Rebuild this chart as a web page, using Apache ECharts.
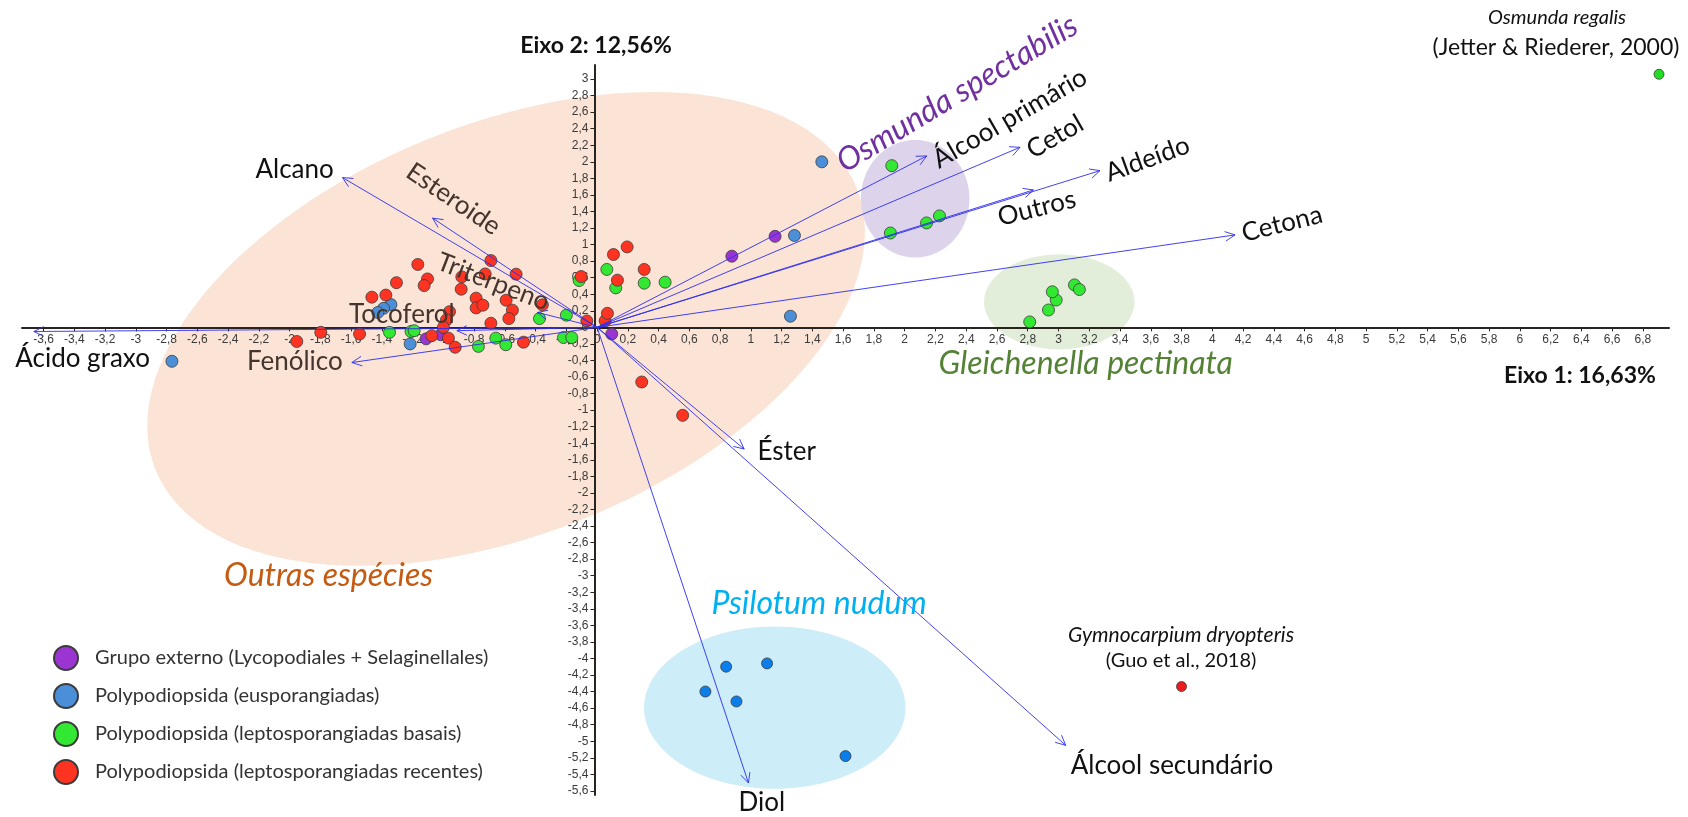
<!DOCTYPE html>
<html>
<head>
<meta charset="utf-8">
<script src="https://cdn.jsdelivr.net/npm/echarts@6/dist/echarts.min.js"></script>
<style>
  html, body { margin: 0; padding: 0; background: #ffffff; }
  #chart { width: 1688px; height: 817px; }
</style>
</head>
<body>
<div id="chart"></div>
<script>
// ---- Group names (legend) ----
const groupNames = [
  'Grupo externo (Lycopodiales + Selaginellales)',
  'Polypodiopsida (eusporangiadas)',
  'Polypodiopsida (leptosporangiadas basais)',
  'Polypodiopsida (leptosporangiadas recentes)'
];

// ---- Species scores [Eixo 1, Eixo 2] ----
const grupoExterno = [
  [0.876, 0.86], [1.157, 1.10], [0.095, -0.08], [-1.112, -0.139], [-1.016, -0.09]
];
const eusporangiadas = [
  [-2.765, -0.41], [-1.341, 0.275], [-1.389, 0.23], [-1.426, 0.18], [-1.216, -0.2],
  [1.461, 2.0], [1.283, 1.11], [1.257, 0.135]
];
const psilotumNudum = [
  [0.839, -4.10], [1.105, -4.06], [0.704, -4.40], [0.906, -4.52], [1.615, -5.18]
];
const leptoBasais = [
  [-1.35, -0.06], [-1.21, -0.05], [-1.19, -0.04], [-0.772, -0.23], [-0.659, -0.13],
  [-0.594, -0.21], [-0.219, -0.123], [-0.165, -0.123], [-0.375, 0.106], [-0.2, 0.147],
  [-0.117, 0.566], [0.063, 0.70], [0.121, 0.477], [0.306, 0.534], [0.442, 0.546],
  [1.916, 1.954], [1.907, 1.14], [2.142, 1.262], [2.226, 1.347],
  [2.813, 0.066], [2.935, 0.21], [2.985, 0.33], [2.96, 0.43], [3.104, 0.513], [3.136, 0.457]
];
const leptoRecentes = [
  [-1.953, -0.17], [-1.797, -0.06], [-1.545, -0.08], [-1.465, 0.365], [-1.374, 0.39],
  [-1.305, 0.54], [-1.166, 0.76], [-1.103, 0.585], [-1.125, 0.505], [-1.075, -0.1],
  [-0.967, -0.13], [-0.923, -0.24], [-0.96, 0.19], [-0.98, 0.09], [-1.0, 0.0],
  [-0.88, 0.61], [-0.884, 0.461], [-0.691, 0.807], [-0.527, 0.643], [-0.728, 0.646],
  [-0.787, 0.353], [-0.787, 0.235], [-0.743, 0.268], [-0.592, 0.328], [-0.551, 0.208],
  [-0.574, 0.106], [-0.691, 0.05], [-0.479, -0.179], [-0.356, 0.272], [-0.104, 0.614],
  [-0.067, 0.078], [0.052, 0.08], [0.067, 0.17], [0.106, 0.88], [0.195, 0.972],
  [0.306, 0.70], [0.132, 0.57], [0.29, -0.66], [0.556, -1.063]
];
// Literature records
const osmundaRegalis = [[6.905, 3.058]];
const gymnocarpiumDryopteris = [[3.80, -4.34]];

// ---- Variable loadings (arrow tips) ----
const loadingNames = ['Alcano', 'Esteroide', 'Triterpeno', 'Tocoferol', 'Fenólico', 'Ácido graxo',
  'Álcool primário', 'Cetol', 'Aldeído', 'Outros', 'Cetona', 'Éster', 'Diol', 'Álcool secundário'];
const loadingX = [-1.656, -1.07, -0.388, -0.912, -1.595, -3.663, 2.143, 2.75, 3.27, 2.837, 4.148, 0.956, 0.984, 3.047];
const loadingY = [1.81, 1.32, 0.18, -0.04, -0.425, -0.05, 2.071, 2.176, 1.894, 1.66, 1.117, -1.47, -5.505, -5.05];

// ---- Axis ticks ----
const xTicks = [-3.6, -3.4, -3.2, -3, -2.8, -2.6, -2.4, -2.2, -2, -1.8, -1.6, -1.4, -1.2, -1, -0.8, -0.6, -0.4, -0.2,
  0, 0.2, 0.4, 0.6, 0.8, 1, 1.2, 1.4, 1.6, 1.8, 2, 2.2, 2.4, 2.6, 2.8, 3, 3.2, 3.4, 3.6, 3.8, 4, 4.2, 4.4, 4.6, 4.8,
  5, 5.2, 5.4, 5.6, 5.8, 6, 6.2, 6.4, 6.6, 6.8];
const yTicks = [3, 2.8, 2.6, 2.4, 2.2, 2, 1.8, 1.6, 1.4, 1.2, 1, 0.8, 0.6, 0.4, 0.2, 0, -0.2, -0.4, -0.6, -0.8,
  -1, -1.2, -1.4, -1.6, -1.8, -2, -2.2, -2.4, -2.6, -2.8, -3, -3.2, -3.4, -3.6, -3.8, -4, -4.2, -4.4, -4.6, -4.8,
  -5, -5.2, -5.4, -5.6];
const axisTitles = ['Eixo 1: 16,63%', 'Eixo 2: 12,56%'];
const X_MIN = -3.74, X_MAX = 6.97, Y_MIN = -5.65, Y_MAX = 3.17;

// ---- Shaded group regions: centre in axis units, semi-axes in axis units, tilt in degrees ----
const regions = [
  { cx: -0.592, cy: -0.018, rx: 2.457, ry: 2.48, tilt: 21.9, fill: '#FBE4D5' },
  { cx: 2.068, cy: 1.554, rx: 0.353, ry: 0.71, tilt: 0, fill: '#DDD4EB' },
  { cx: 3.005, cy: 0.308, rx: 0.489, ry: 0.574, tilt: 0, fill: '#E2EEDA' },
  { cx: 1.155, cy: -4.595, rx: 0.85, ry: 0.98, tilt: 0, fill: '#CDEDF8' }
];

// ---- Text annotations anchored in axis units ----
const BROWN = '#45352e';
const INK = '#111111';
const annotations = [
  { text: 'Alcano', x: -1.967, y: 1.902, size: 26, color: INK },
  { text: 'Esteroide', x: -0.935, y: 1.55, size: 26, color: BROWN, rot: -34 },
  { text: 'Triterpeno', x: -0.676, y: 0.55, size: 26, color: BROWN, rot: -21 },
  { text: 'Tocoferol', x: -1.27, y: 0.151, size: 26, color: BROWN },
  { text: 'Fenólico', x: -1.966, y: -0.413, size: 26, color: BROWN },
  { text: 'Ácido graxo', x: -3.346, y: -0.374, size: 26, color: INK },
  { text: 'Álcool primário', x: 2.684, y: 2.525, size: 26, color: INK, rot: 30 },
  { text: 'Cetol', x: 2.978, y: 2.304, size: 26, color: INK, rot: 30 },
  { text: 'Aldeído', x: 3.579, y: 2.033, size: 26, color: INK, rot: 20 },
  { text: 'Outros', x: 2.859, y: 1.44, size: 26, color: INK, rot: 14 },
  { text: 'Cetona', x: 4.454, y: 1.25, size: 26, color: INK, rot: 14 },
  { text: 'Éster', x: 1.233, y: -1.5, size: 26, color: INK },
  { text: 'Diol', x: 1.071, y: -5.743, size: 26, color: INK },
  { text: 'Álcool secundário', x: 3.738, y: -5.289, size: 26, color: INK },
  { text: 'Osmunda spectabilis', x: 2.341, y: 2.824, size: 32, color: '#7030A0', rot: 31, italic: true },
  { text: 'Gleichenella pectinata', x: 3.177, y: -0.44, size: 32, color: '#548235', italic: true },
  { text: 'Outras espécies', x: -1.747, y: -3.0, size: 32, color: '#C55A11', italic: true },
  { text: 'Psilotum nudum', x: 1.443, y: -3.34, size: 32, color: '#00B0F0', italic: true },
  { text: 'Osmunda regalis', x: 6.242, y: 3.738, size: 20, color: INK, italic: true },
  { text: '(Jetter & Riederer, 2000)', x: 6.235, y: 3.376, size: 23, color: INK },
  { text: 'Gymnocarpium dryopteris', x: 3.797, y: -3.715, size: 21, color: INK, italic: true },
  { text: '(Guo et al., 2018)', x: 3.797, y: -4.028, size: 20, color: INK },
  { text: axisTitles[1], x: -0.007, y: 3.4, size: 23, color: INK, bold: true },
  { text: axisTitles[0], x: 6.391, y: -0.586, size: 23, color: INK, bold: true }
];

const ARROW = 'rgba(45,45,240,0.9)';
const AXIS_INK = '#2a2421';
const FONT = 'Lato, "Open Sans", sans-serif';
const TICK_FONT = '"Liberation Sans", Arial, sans-serif';
const tickFmt = v => String(Math.round(v * 10) / 10).replace('.', ',');

function renderRegion(params, api) {
  const r = regions[params.dataIndex];
  const c = api.coord([r.cx, r.cy]);
  const s = api.size([r.rx, r.ry]);
  const th = r.tilt * Math.PI / 180;
  const pts = [];
  for (let i = 0; i < 120; i++) {
    const t = i / 120 * Math.PI * 2;
    const a = s[0] * Math.cos(t), b = s[1] * Math.sin(t);
    pts.push([c[0] + a * Math.cos(th) + b * Math.sin(th), c[1] - a * Math.sin(th) + b * Math.cos(th)]);
  }
  return { type: 'polygon', shape: { points: pts }, style: { fill: r.fill } };
}

function renderArrow(params, api) {
  const o = api.coord([0, 0]);
  const e = api.coord([api.value(0), api.value(1)]);
  const ang = Math.atan2(e[1] - o[1], e[0] - o[0]);
  const L = 11, spread = 0.45;
  const h1 = [e[0] - L * Math.cos(ang - spread), e[1] - L * Math.sin(ang - spread)];
  const h2 = [e[0] - L * Math.cos(ang + spread), e[1] - L * Math.sin(ang + spread)];
  return {
    type: 'group',
    children: [
      { type: 'line', shape: { x1: o[0], y1: o[1], x2: e[0], y2: e[1] }, style: { stroke: ARROW, lineWidth: 1 } },
      { type: 'polyline', shape: { points: [h1, e, h2] }, style: { stroke: ARROW, lineWidth: 1, fill: 'none' } }
    ]
  };
}

function renderText(params, api) {
  const a = annotations[params.dataIndex];
  const p = api.coord([a.x, a.y]);
  return {
    type: 'text',
    x: p[0], y: p[1],
    rotation: (a.rot || 0) * Math.PI / 180,
    style: {
      text: a.text,
      fill: a.color,
      fontFamily: FONT,
      fontSize: a.size,
      fontStyle: a.italic ? 'italic' : 'normal',
      fontWeight: a.bold ? 'bold' : 'normal',
      align: 'center',
      verticalAlign: 'middle'
    }
  };
}

function scatterSeries(name, data, color, size) {
  return {
    type: 'scatter', name: name, data: data, symbolSize: size, z: 3,
    itemStyle: { color: color, borderColor: '#3b3b3b', borderWidth: 0.8, opacity: 1 },
    emphasis: { disabled: true }
  };
}

const chart = echarts.init(document.getElementById('chart'), null, { renderer: 'canvas' });
chart.setOption({
  animation: false,
  backgroundColor: '#ffffff',
  grid: { left: 22, right: 19, top: 65, bottom: 22, containLabel: false },
  legend: {
    orient: 'vertical', left: 48, top: 640, itemWidth: 24, itemHeight: 24, itemGap: 12,
    icon: 'circle', data: groupNames, selectedMode: false,
    textStyle: { fontFamily: FONT, fontSize: 20, color: '#333333', padding: [0, 0, 0, 12] }
  },
  xAxis: {
    type: 'value', min: X_MIN, max: X_MAX, position: 'bottom',
    axisLine: { show: true, onZero: false, lineStyle: { color: AXIS_INK, width: 2 } },
    axisTick: { show: true, length: 4, customValues: xTicks, lineStyle: { color: AXIS_INK } },
    axisLabel: { customValues: xTicks, formatter: tickFmt, color: '#3a3a3a', fontSize: 12,
      fontFamily: TICK_FONT, margin: 6 },
    splitLine: { show: false }
  },
  yAxis: {
    type: 'value', min: Y_MIN, max: Y_MAX, position: 'left',
    axisLine: { show: true, onZero: false, lineStyle: { color: AXIS_INK, width: 2 } },
    axisTick: { show: true, length: 4, customValues: yTicks, lineStyle: { color: AXIS_INK } },
    axisLabel: { customValues: yTicks, formatter: tickFmt, color: '#3a3a3a', fontSize: 12,
      fontFamily: TICK_FONT, margin: 6 },
    splitLine: { show: false }
  },
  series: [
    { type: 'custom', name: 'regiões', z: -1, renderItem: renderRegion, silent: true,
      data: regions.map(r => [r.cx, r.cy]) },
    scatterSeries(groupNames[0], grupoExterno, '#9A35D2', 12),
    scatterSeries(groupNames[1], eusporangiadas, '#4A8FD8', 12),
    scatterSeries(groupNames[1], psilotumNudum, '#0A7EEA', 11),
    scatterSeries(groupNames[2], leptoBasais, '#33E833', 12),
    scatterSeries(groupNames[2], osmundaRegalis, '#22DD22', 10),
    scatterSeries(groupNames[3], leptoRecentes, '#FF3322', 12),
    scatterSeries(groupNames[3], gymnocarpiumDryopteris, '#EE1C1C', 10),
    { type: 'custom', name: 'cargas', z: 4, renderItem: renderArrow, silent: true,
      data: loadingX.map((x, i) => [x, loadingY[i], loadingNames[i]]) },
    { type: 'custom', name: 'rótulos', z: 5, renderItem: renderText, silent: true,
      data: annotations.map(a => [a.x, a.y]) }
  ]
});

// Move both axes (line, ticks, labels) onto the origin of the other axis.
const origin = chart.convertToPixel({ gridIndex: 0 }, [0, 0]);
const corner = chart.convertToPixel({ gridIndex: 0 }, [X_MIN, Y_MIN]);
chart.setOption({
  xAxis: { offset: -(corner[1] - origin[1]) },
  yAxis: { offset: -(origin[0] - corner[0]) }
});
</script>
</body>
</html>
